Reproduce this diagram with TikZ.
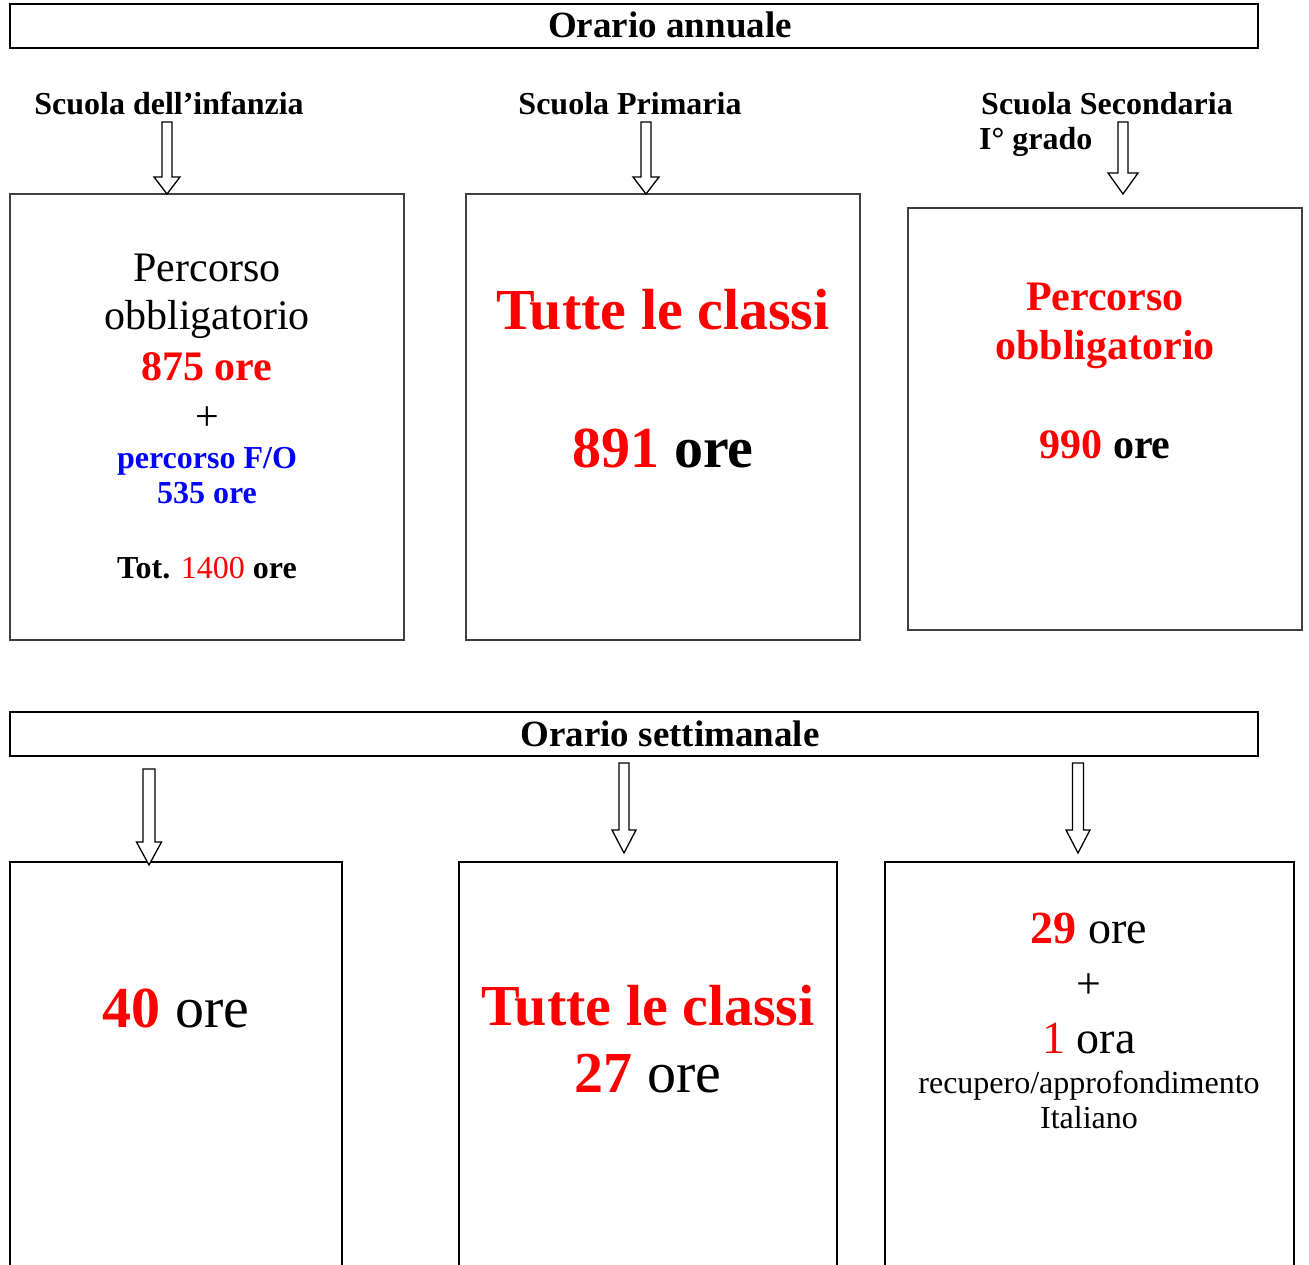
\documentclass[tikz,border=0pt]{standalone}
\usepackage{fontspec}
\setmainfont{Liberation Serif}
\usetikzlibrary{calc}
\definecolor{myred}{RGB}{255,0,0}
\definecolor{myblue}{RGB}{0,0,255}
\newcommand{\blockarrow}[5]{%
  \draw[barr] ($(#1)+(-#3,0)$) -- ($(#2)+(-#3,-#5)$) -- ($(#2)+(-#4,-#5)$) -- (#2)
    -- ($(#2)+(#4,-#5)$) -- ($(#2)+(#3,-#5)$) -- ($(#1)+(#3,0)$) -- cycle;}
\newcommand{\fs}[1]{\fontsize{#1}{#1}\selectfont}
\begin{document}
\begin{tikzpicture}[x=1pt,y=-1pt,
  titlebox/.style={draw, line width=2pt},
  topbox/.style={draw=black!75, line width=1.3pt},
  botbox/.style={draw, line width=2pt},
  barr/.style={draw, line width=1.3pt, fill=white, line join=miter},
  txt/.style={anchor=base, inner sep=0pt}]
\useasboundingbox[fill=white] (0,0) rectangle (1309,1265);

% ---- annual section ----
\draw[titlebox] (10,4) rectangle (1258,48);
\node[txt] (tat) at (670,38) {\fs{37}\bfseries Orario annuale};

\node[txt] (l1) at (169,115) {\fs{32}\bfseries Scuola dell’infanzia};
\node[txt] (l2) at (630,115) {\fs{32}\bfseries Scuola Primaria};
\node[txt] (l3) at (1107,115) {\fs{32}\bfseries Scuola Secondaria};
\node[txt, anchor=base west] (l3b) at (979,150) {\fs{32}\bfseries I° grado};

\draw[topbox] (10,194) rectangle (404,640);
\draw[topbox] (466,194) rectangle (860,640);
\draw[topbox] (908,208) rectangle (1302,630);
\coordinate (b1n) at (207,194);
\coordinate (b2n) at (663,194);
\coordinate (b3n) at (1105,208);

\coordinate (a1s) at (167,122);
\coordinate (a1t) at (a1s |- b1n);
\blockarrow{a1s}{a1t}{5}{13}{17}
\coordinate (a2s) at (646,122);
\coordinate (a2t) at (a2s |- b2n);
\blockarrow{a2s}{a2t}{5}{13}{17}
\coordinate (a3s) at (1123,122);
\coordinate (a3t) at (1123,194);
\blockarrow{a3s}{a3t}{5}{15}{21}

% box 1 text
\node[txt] (p1) at (207,282) {\fs{42}Percorso};
\node[txt] (p2) at (207,330) {\fs{42}obbligatorio};
\node[txt] (p3) at (207,380) {\fs{42}\bfseries\color{myred}875 ore};
\node[txt] (p4) at (207,430) {\fs{42}+};
\node[txt] (p5) at (207,468) {\fs{32}\bfseries\color{myblue}percorso F/O};
\node[txt] (p6) at (207,503) {\fs{32}\bfseries\color{myblue}535 ore};
\node[txt] (p7) at (207,578) {\fs{32}\textbf{Tot.} {\color{myred}1400} \textbf{ore}};

% box 2 text
\node[txt] (q1) at (663,330) {\fs{58}\bfseries\color{myred}Tutte le classi};
\node[txt] (q2) at (663,467) {\fs{58}\bfseries{\color{myred}891} ore};

% box 3 text
\node[txt] (r1) at (1105,311) {\fs{42}\bfseries\color{myred}Percorso};
\node[txt] (r2) at (1105,359) {\fs{42}\bfseries\color{myred}obbligatorio};
\node[txt] (r3) at (1105,458) {\fs{42}\bfseries{\color{myred}990} ore};

% ---- weekly section ----
\draw[titlebox] (10,712) rectangle (1258,756);
\node[txt] (tst) at (670,746) {\fs{37}\bfseries Orario settimanale};

\draw[botbox] (10,862) rectangle (342,1280);
\draw[botbox] (459,862) rectangle (837,1280);
\draw[botbox] (885,862) rectangle (1294,1280);
\coordinate (b4n) at (176,862);
\coordinate (b5n) at (648,862);
\coordinate (b6n) at (1089,862);

\coordinate (a4s) at (149,769);
\coordinate (a4t) at (149,865);
\blockarrow{a4s}{a4t}{6}{12.5}{23}
\coordinate (a5s) at (624,763);
\coordinate (a5t) at (624,853);
\blockarrow{a5s}{a5t}{5}{12}{23}
\coordinate (a6s) at (1078,763);
\coordinate (a6t) at (1078,853);
\blockarrow{a6s}{a6t}{5.5}{12}{23}

\node[txt] (s1) at (176,1027) {\fs{58}{\bfseries\color{myred}40} ore};
\node[txt] (s2) at (648,1025) {\fs{58}\bfseries\color{myred}Tutte le classi};
\node[txt] (s3) at (648,1092) {\fs{58}{\bfseries\color{myred}27} ore};

\node[txt] (u1) at (1089,943) {\fs{46}{\bfseries\color{myred}29} ore};
\node[txt] (u2) at (1089,998) {\fs{44}+};
\node[txt] (u3) at (1089,1053) {\fs{46}{\color{myred}1} ora};
\node[txt] (u4) at (1089,1093) {\fs{32}recupero/approfondimento};
\node[txt] (u5) at (1089,1128) {\fs{32}Italiano};
\end{tikzpicture}
\end{document}
